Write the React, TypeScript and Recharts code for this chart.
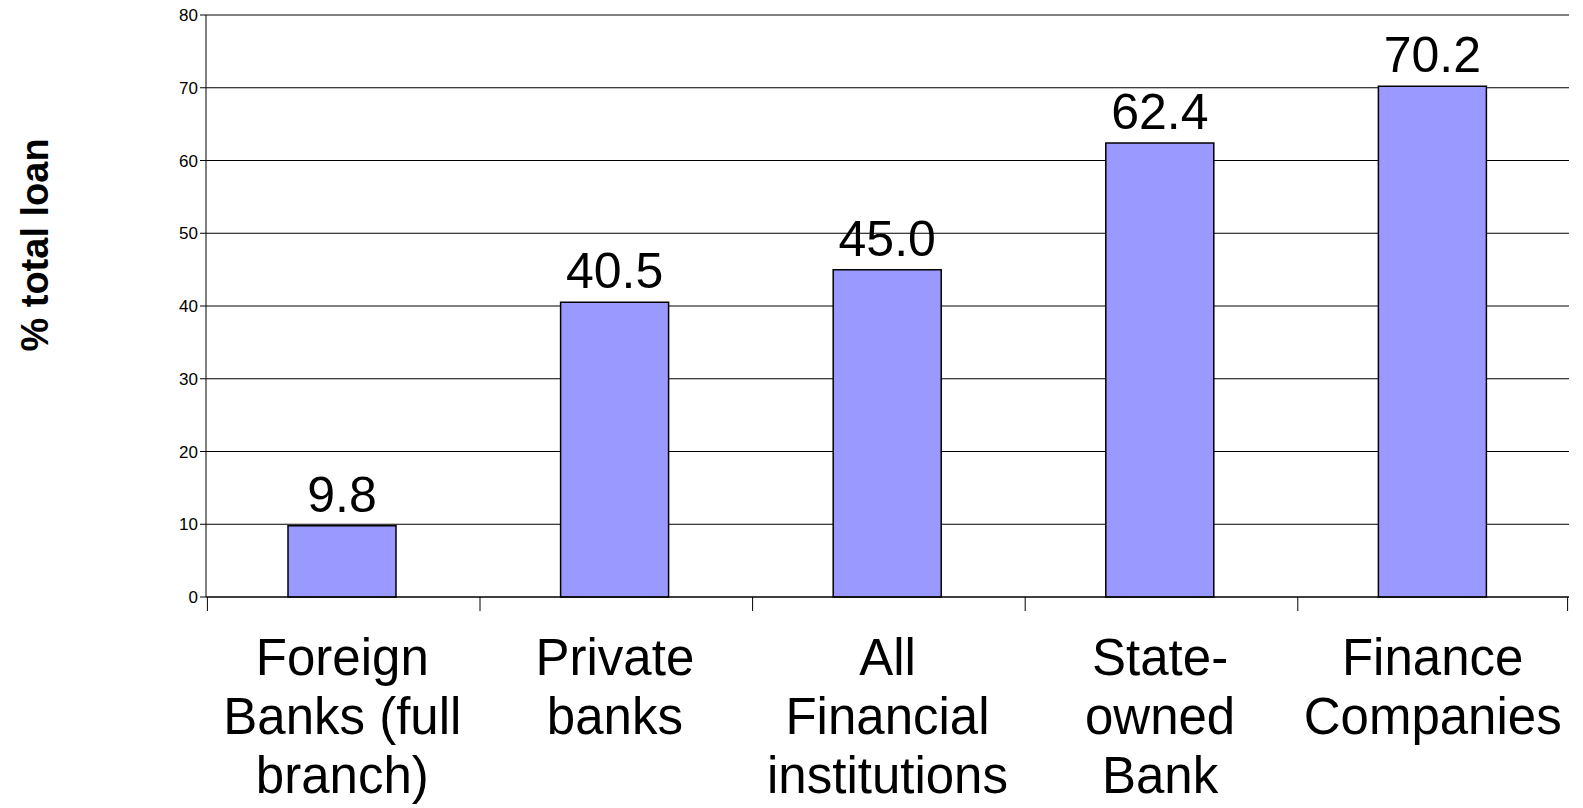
import React from "react";
import { BarChart, Bar, XAxis, YAxis, CartesianGrid, LabelList } from "recharts";

const categories = [
  ["Foreign", "Banks (full", "branch)"],
  ["Private", "banks"],
  ["All", "Financial", "institutions"],
  ["State-", "owned", "Bank"],
  ["Finance", "Companies"],
];
const values = [9.8, 40.5, 45.0, 62.4, 70.2];
const yTicks = [0, 10, 20, 30, 40, 50, 60, 70, 80];

const data = categories.map((c, i) => ({ name: c.join(" "), lines: c, value: values[i] }));

const FONT = "Arial, 'Liberation Sans', sans-serif";

const CatTick = ({ x, y, payload, index }: any) => {
  const half = 269.8 / 2;
  const lines = data[payload.index ?? index]?.lines ?? [payload.value];
  return (
    <g>
      <line x1={x - half} x2={x - half} y1={y - 8} y2={y + 6} stroke="#000" />
      {index === data.length - 1 && (
        <line x1={x + half} x2={x + half} y1={y - 8} y2={y + 6} stroke="#000" />
      )}
      <text textAnchor="middle" fontSize={51} fontFamily={FONT} fill="#000">
        {lines.map((l: string, i: number) => (
          <tspan key={i} x={x} y={y + 70 + i * 59}>
            {l}
          </tspan>
        ))}
      </text>
    </g>
  );
};

const YLabel = () => (
  <text
    transform="translate(48,245) rotate(-90)"
    textAnchor="middle"
    fontSize={38}
    fontWeight="bold"
    fontFamily={FONT}
    fill="#000"
  >
    % total loan
  </text>
);

export default function App() {
  return (
    <div style={{ position: "absolute", left: 0, top: 0, width: 1583, height: 808, background: "#fff" }}>
      <BarChart
        width={1583}
        height={808}
        data={data}
        margin={{ top: 15, right: 14, left: 0, bottom: 0 }}
        style={{ overflow: "visible" }}
      >
        <CartesianGrid vertical={false} stroke="#000" strokeWidth={1} />
        <XAxis
          dataKey="name"
          interval={0}
          height={211}
          tick={<CatTick />}
          tickLine={false}
          axisLine={{ stroke: "#000" }}
        />
        <YAxis
          width={206}
          domain={[0, 80]}
          ticks={yTicks}
          interval={0}
          tick={{ fill: "#000", fontSize: 17, fontFamily: FONT }}
          tickLine={{ stroke: "#000" }}
          tickSize={6}
          axisLine={{ stroke: "#000" }}
          label={<YLabel />}
        />
        <Bar dataKey="value" fill="#9999ff" stroke="#000" strokeWidth={1.5} barSize={108} isAnimationActive={false}>
          <LabelList
            dataKey="value"
            position="top"
            offset={14}
            formatter={(v: any) => Number(v).toFixed(1)}
            style={{ fontSize: 50, fontFamily: FONT, fill: "#000" }}
          />
        </Bar>
      </BarChart>
    </div>
  );
}
